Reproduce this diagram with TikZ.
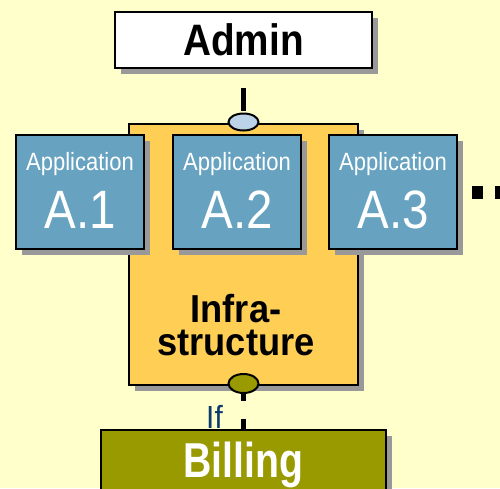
\documentclass[tikz,border=0pt]{standalone}
\usepackage{fontspec}
\setmainfont{Liberation Sans}
\newfontfamily\nA[FakeStretch=0.88]{Liberation Sans}
\newfontfamily\nB[FakeStretch=0.8]{Liberation Sans}
\newfontfamily\nC[FakeStretch=0.93]{Liberation Sans}
\usetikzlibrary{shadows,shapes.geometric}
\definecolor{bgc}{HTML}{FFFFCC}
\definecolor{infc}{HTML}{FFCF55}
\definecolor{appc}{HTML}{67A3C1}
\definecolor{shc}{HTML}{999999}
\definecolor{ifc}{HTML}{0B3A6E}
\definecolor{olive}{HTML}{999900}
\definecolor{ellc}{HTML}{BBD2E9}
\tikzset{
  shad/.style={drop shadow={shadow xshift=6pt,shadow yshift=-6pt,fill=shc,opacity=1}},
  box/.style={draw=black,line width=2.5pt,rectangle,inner sep=0pt,shad},
  appbox/.style={box,fill=appc,minimum width=128pt,minimum height=114pt},
  apptop/.style={anchor=base,text=white,font=\nA\fontsize{25}{25}\selectfont,inner sep=0pt},
  appbig/.style={anchor=base,text=white,font=\nA\fontsize{54}{54}\selectfont,inner sep=0pt},
  infratxt/.style={align=center,text=black,font=\nC\bfseries\fontsize{39}{33}\selectfont,inner sep=0pt},
  ell/.style={ellipse,draw=black,line width=2pt,inner sep=0pt},
  link/.style={line width=4.5pt,black,line cap=butt},
}
\begin{document}
\begin{tikzpicture}[x=1pt,y=-1pt]
\clip (0,0) rectangle (500,488);
\fill[bgc] (0,0) rectangle (500,488);
% infrastructure
\node[box,fill=infc,minimum width=229pt,minimum height=261pt] (infra) at (243.5,254.5) {};
\node[infratxt] (inftxt) at (236,325) {Infra-\\structure};
% applications
\node[appbox] (a1) at (80,192) {};
\node[appbox] (a2) at (237,192) {};
\node[appbox] (a3) at (393,192) {};
\node[apptop] (t1) at (80,170) {Application};
\node[apptop] (t2) at (237,170) {Application};
\node[apptop] (t3) at (393,170) {Application};
\node[appbig] (b1) at (80,228) {A.1};
\node[appbig] (b2) at (237,228) {A.2};
\node[appbig] (b3) at (393,228) {A.3};
% dots
\fill[black] (472,186) rectangle (483,199);
\fill[black] (495,186) rectangle (506,199);
% admin
\node[box,fill=white,minimum width=257pt,minimum height=56pt,font=\nA\bfseries\fontsize{44}{44}\selectfont] (admin) at (243.5,40) {Admin};
% billing
\node[box,fill=olive,minimum width=285pt,minimum height=70pt] (billing) at (243.5,465) {};
\node[anchor=base,text=white,font=\nB\bfseries\fontsize{49}{49}\selectfont,inner sep=0pt] (billtxt) at (243.5,477) {Billing};
% interface ellipses
\node[ell,fill=ellc,minimum width=30pt,minimum height=17pt] (e1) at (243.5,122) {};
\node[ell,fill=olive,minimum width=30pt,minimum height=19pt] (e2) at (243.5,383.5) {};
% links
\draw[link,dash pattern=on 23pt off 19pt,dash phase=23pt] (admin.south) -- (e1.north);
\draw[link,dash pattern=on 25pt off 18pt,dash phase=18pt] (e2.south) -- (billing.north);
\node[anchor=base,text=ifc,font=\nC\fontsize{32}{32}\selectfont,inner sep=0pt] (iflbl) at (214.5,428) {If};
\end{tikzpicture}
\end{document}
